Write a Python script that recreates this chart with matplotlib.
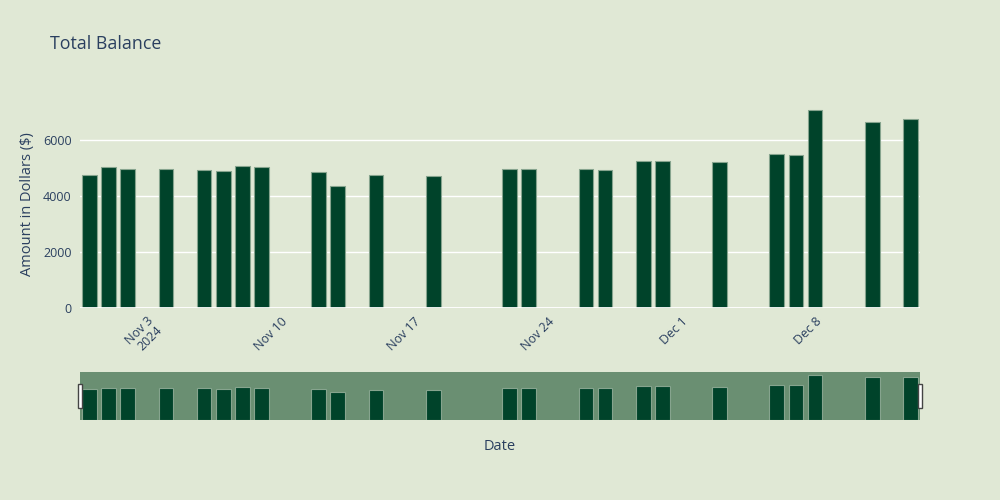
import pandas as pd
import matplotlib.pyplot as plt
import matplotlib.dates as mdates
from matplotlib.patches import Rectangle

plt.rcParams['font.family'] = ['Open Sans', 'DejaVu Sans']

dates = ["2024-10-31", "2024-11-01", "2024-11-02", "2024-11-04", "2024-11-06",
         "2024-11-07", "2024-11-08", "2024-11-09", "2024-11-12", "2024-11-13",
         "2024-11-15", "2024-11-18", "2024-11-22", "2024-11-23", "2024-11-26",
         "2024-11-27", "2024-11-29", "2024-11-30", "2024-12-03", "2024-12-06",
         "2024-12-07", "2024-12-08", "2024-12-11", "2024-12-13"]
balance = [4750, 5010, 4960, 4940, 4915, 4890, 5080, 5035, 4865, 4365,
           4725, 4700, 4965, 4940, 4940, 4925, 5250, 5250, 5200, 5490,
           5440, 7050, 6620, 6730]
tick_dates = ["2024-11-03", "2024-11-10", "2024-11-17", "2024-11-24",
              "2024-12-01", "2024-12-08"]
tick_labels = ["Nov 3\n2024", "Nov 10", "Nov 17", "Nov 24", "Dec 1", "Dec 8"]

bg = '#e0e8d5'
bar_color = '#00432a'
edge = '#86a48e'
text_color = '#2a3f5f'


def main():
    df = pd.DataFrame({"Date": pd.to_datetime(dates), "Balance": balance})
    x = mdates.date2num(df["Date"])
    xmin = x.min() - 0.5
    xmax = x.max() + 0.5

    fig = plt.figure(figsize=(10, 5), dpi=100, facecolor=bg)

    # main chart
    ax = fig.add_axes([0.08, 0.3846, 0.84, 0.4154])
    ax.set_facecolor(bg)
    ax.bar(x, df["Balance"], width=0.77, color=bar_color, edgecolor=edge,
           linewidth=0.8, zorder=3)
    ax.set_xlim(xmin, xmax)
    ax.set_ylim(0, 7420)
    ax.set_yticks([0, 2000, 4000, 6000])
    ax.yaxis.grid(True, color='white', linewidth=1, zorder=0)
    ax.axhline(0, color='white', linewidth=2, zorder=4)
    for s in ax.spines.values():
        s.set_visible(False)
    ax.tick_params(axis='both', length=0, colors=text_color, labelsize=9)
    ax.tick_params(axis='y', pad=6)
    ax.set_xticks(mdates.date2num(pd.to_datetime(tick_dates)))
    ax.set_xticklabels(tick_labels, rotation=45, ha='right', va='top',
                       rotation_mode='anchor', linespacing=1.0)
    ax.tick_params(axis='x', pad=5)
    ax.set_ylabel("Amount in Dollars ($)", color=text_color, fontsize=10.5,
                  labelpad=6)

    fig.text(0.05, 1 - 44 / 500, "Total Balance", color=text_color,
             fontsize=12.8, va='center', ha='left')

    # range slider
    sl = fig.add_axes([0.08, 0.16, 0.84, 0.096])
    sl.set_facecolor('#6a8f72')
    sl.bar(x, df["Balance"], width=0.77, color=bar_color, edgecolor=edge,
           linewidth=0.8)
    sl.set_xlim(xmin, xmax)
    sl.set_ylim(0, max(balance) * 1.06)
    sl.set_xticks([])
    sl.set_yticks([])
    for s in sl.spines.values():
        s.set_visible(False)

    # slider handles
    for left in (77.5 / 1000, 917.7 / 1000):
        fig.patches.append(Rectangle((left, 1 - 408.3 / 500), 4.5 / 1000, 24 / 500,
                                     transform=fig.transFigure, facecolor='white',
                                     edgecolor='#444444', linewidth=1))

    fig.text(0.5, 1 - 446 / 500, "Date", color=text_color, fontsize=10.5,
             ha='center', va='center')

    fig.savefig("out.png", dpi=100, facecolor=bg)


if __name__ == "__main__":
    main()
